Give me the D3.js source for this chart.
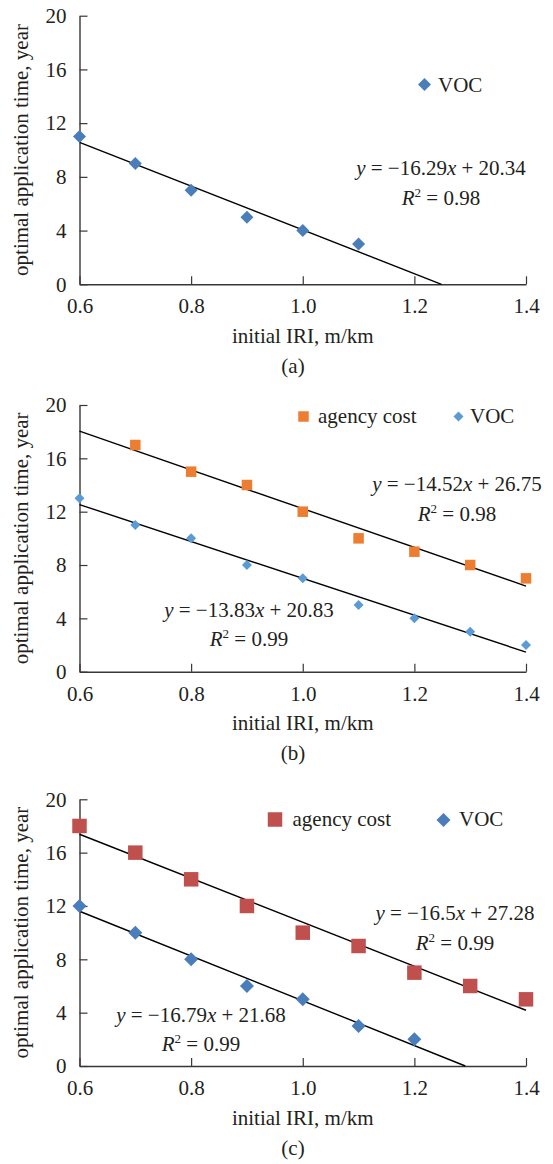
<!DOCTYPE html>
<html>
<head>
<meta charset="utf-8">
<script src="https://cdn.jsdelivr.net/npm/d3@7"></script>
<style>
  body { margin: 0; background: #fff; }
  svg text { font-family: "Liberation Serif", "Times New Roman", serif; fill: #231f20; }
</style>
</head>
<body>
<script>
// Initial IRI (m/km) shared by every panel
const iri = [0.6, 0.7, 0.8, 0.9, 1.0, 1.1, 1.2, 1.3, 1.4];
const xTicks = [0.6, 0.8, 1.0, 1.2, 1.4];
const yTicks = [0, 4, 8, 12, 16, 20];

// Optimal application time (years), panel (a)
const vocA = [11, 9, 7, 5, 4, 3];
// panel (b)
const agencyB = [null, 17, 15, 14, 12, 10, 9, 8, 7];
const vocB = [13, 11, 10, 8, 7, 5, 4, 3, 2];
// panel (c)
const agencyC = [18, 16, 14, 12, 10, 9, 7, 6, 5];
const vocC = [12, 10, 8, 6, 5, 3, 2];

// Linear fits: [slope, intercept, R²]
const fitVocA = [-16.29, 20.34, 0.98];
const fitAgencyB = [-14.52, 26.75, 0.98];
const fitVocB = [-13.83, 20.83, 0.99];
const fitAgencyC = [-16.5, 27.28, 0.99];
const fitVocC = [-16.79, 21.68, 0.99];

const panelLabels = ["(a)", "(b)", "(c)"];
const xTitle = "initial IRI, m/km";
const yTitle = "optimal application time, year";

const W = 553, H = 1164, FS = 21;
const svg = d3.select("body").append("svg").attr("width", W).attr("height", H);

const x = d3.scaleLinear().domain([0.6, 1.4]).range([79.5, 526]);

function marker(shape, size) {
  // diamonds are squares turned 45°, size = diagonal / side in px
  const area = shape === "diamond" ? size * size / 2 : size * size;
  return d3.symbol().type(d3.symbolSquare).size(area)();
}

const panels = [
  {
    top: 15.7, bottom: 284.3, label: panelLabels[0],
    series: [
      { name: "VOC", values: vocA, fit: fitVocA, shape: "diamond", color: "#4a7ebb", size: 13,
        eq: [441, 175], legend: [424.5, 84.5, 438, 91.5] }
    ]
  },
  {
    top: 405, bottom: 671.7, label: panelLabels[1],
    series: [
      { name: "agency cost", values: agencyB, fit: fitAgencyB, shape: "square", color: "#ed7d31", size: 10.5,
        eq: [457, 491], legend: [303.5, 416.5, 318, 423] },
      { name: "VOC", values: vocB, fit: fitVocB, shape: "diamond", color: "#5b9bd5", size: 10,
        eq: [249, 616.5], legend: [458.5, 416.5, 470, 423] }
    ]
  },
  {
    top: 799.3, bottom: 1066, label: panelLabels[2],
    series: [
      { name: "agency cost", values: agencyC, fit: fitAgencyC, shape: "square", color: "#c0504d", size: 14.5,
        eq: [455, 920], legend: [275, 819.5, 292.5, 826] },
      { name: "VOC", values: vocC, fit: fitVocC, shape: "diamond", color: "#4a7ebb", size: 14,
        eq: [201, 1021.5], legend: [443.5, 820, 459, 826] }
    ]
  }
];

panels.forEach(p => {
  const y = d3.scaleLinear().domain([0, 20]).range([p.bottom, p.top]);
  const g = svg.append("g");

  // axes with inward ticks
  const yAxis = g.append("g").attr("transform", `translate(${x(0.6)},0)`)
    .call(d3.axisLeft(y).tickValues(yTicks).tickSizeInner(-8).tickSizeOuter(0).tickPadding(13));
  const xAxis = g.append("g").attr("transform", `translate(0,${y(0)})`)
    .call(d3.axisBottom(x).tickValues(xTicks).tickSizeInner(-8).tickSizeOuter(0).tickPadding(14)
      .tickFormat(d3.format(".1f")));
  [yAxis, xAxis].forEach(a => {
    a.select(".domain").attr("stroke", "#3a3536").attr("stroke-width", 1.4);
    a.selectAll(".tick line").attr("stroke", "#3a3536").attr("stroke-width", 1.2);
    a.selectAll(".tick text").attr("font-size", FS).attr("font-family", null).attr("fill", "#231f20");
  });

  // axis titles and panel label
  g.append("text").attr("transform", `translate(28,${(p.top + p.bottom) / 2}) rotate(-90)`)
    .attr("text-anchor", "middle").attr("font-size", FS).text(yTitle);
  g.append("text").attr("x", (x.range()[0] + x.range()[1]) / 2).attr("y", p.bottom + 58.5)
    .attr("text-anchor", "middle").attr("font-size", FS).text(xTitle);
  g.append("text").attr("x", 293).attr("y", p.bottom + 88.5)
    .attr("text-anchor", "middle").attr("font-size", FS).text(p.label);

  p.series.forEach(s => {
    const [slope, intercept, r2] = s.fit;
    // trend line, stopped where it meets the x axis
    const xEnd = Math.min(1.4, -intercept / slope);
    const ends = [0.6, xEnd];
    g.append("path")
      .attr("d", d3.line().x(d => x(d)).y(d => y(slope * d + intercept))(ends))
      .attr("stroke", "#000").attr("stroke-width", 1.4).attr("fill", "none");

    // markers
    const pts = s.values.map((v, i) => ({ x: iri[i], v })).filter(d => d.v != null);
    const rot = s.shape === "diamond" ? 45 : 0;
    g.selectAll(null).data(pts).enter().append("path")
      .attr("d", marker(s.shape, s.size))
      .attr("transform", d => `translate(${x(d.x)},${y(d.v)}) rotate(${rot})`)
      .attr("fill", s.color);

    // legend entry
    const [lx, ly, tx, ty] = s.legend;
    g.append("path").attr("d", marker(s.shape, s.size))
      .attr("transform", `translate(${lx},${ly}) rotate(${rot})`).attr("fill", s.color);
    g.append("text").attr("x", tx).attr("y", ty).attr("font-size", FS).text(s.name);

    // fit equation and R²
    const [ex, ey] = s.eq;
    const eq = g.append("text").attr("x", ex).attr("y", ey).attr("text-anchor", "middle").attr("font-size", FS);
    eq.append("tspan").attr("font-style", "italic").text("y");
    eq.append("tspan").text(` = ${slope < 0 ? "\u2212" : ""}${Math.abs(slope)}`);
    eq.append("tspan").attr("font-style", "italic").text("x");
    eq.append("tspan").text(` + ${intercept}`);

    const rt = g.append("text").attr("x", ex).attr("y", ey + 29.5).attr("text-anchor", "middle").attr("font-size", FS);
    rt.append("tspan").attr("font-style", "italic").text("R");
    rt.append("tspan").attr("font-size", 13).attr("dy", -8).text("2");
    rt.append("tspan").attr("dy", 8).text(` = ${r2}`);
  });
});
</script>
</body>
</html>
